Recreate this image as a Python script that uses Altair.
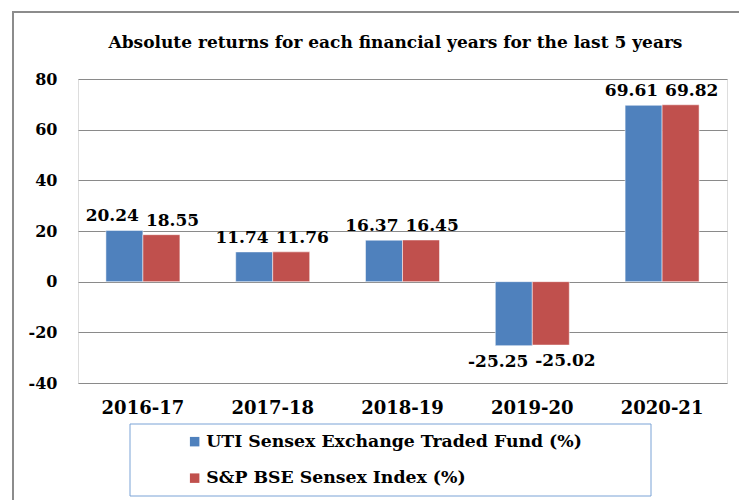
import altair as alt
import pandas as pd

years = ["2016-17", "2017-18", "2018-19", "2019-20", "2020-21"]
uti_values = [20.24, 11.74, 16.37, -25.25, 69.61]
bse_values = [18.55, 11.76, 16.45, -25.02, 69.82]
series_names = ["UTI Sensex Exchange Traded Fund (%)", "S&P BSE Sensex Index (%)"]
series_colors = ["#4F81BD", "#C0504D"]
y_ticks = [-40, -20, 0, 20, 40, 60, 80]
title_text = "Absolute returns for each financial years for the last 5 years"

rows = []
for i, yr in enumerate(years):
    rows.append({"year": yr, "series": series_names[0], "value": uti_values[i]})
    rows.append({"year": yr, "series": series_names[1], "value": bse_values[i]})
df = pd.DataFrame(rows)

FONT = "DejaVu Serif"
W, H = 649, 304
GRID = "#8a8a8a"

x_scale = alt.Scale(paddingInner=0.43, paddingOuter=0.215)
y_scale = alt.Scale(domain=[-40, 80], nice=False, zero=True)

x_enc = alt.X(
    "year:N", sort=years, scale=x_scale,
    axis=alt.Axis(title=None, labelAngle=0, labelFont=FONT, labelFontWeight="bold",
                  labelFontSize=18, labelColor="#000000", labelPadding=16,
                  ticks=False, tickSize=0, domain=False, grid=False),
)
y_enc = alt.Y(
    "value:Q", stack=False, scale=y_scale,
    axis=alt.Axis(title=None, values=y_ticks, labelFont=FONT, labelFontWeight="bold",
                  labelFontSize=16, labelColor="#000000", labelPadding=21,
                  ticks=False, tickSize=0, domain=False, grid=True,
                  gridColor=GRID, gridWidth=1,
                  labelExpr="replace(datum.label, '\u2212', '-')"),
)
color_enc = alt.Color(
    "series:N",
    scale=alt.Scale(domain=series_names, range=series_colors),
    legend=alt.Legend(title=None, orient="none", legendX=108, legendY=354,
                      symbolType="square", symbolSize=90, symbolStrokeWidth=0,
                      labelFont=FONT, labelFontWeight="bold", labelFontSize=17.3,
                      labelColor="#000000", labelOffset=3, rowPadding=18.5,
                      padding=0, labelLimit=600),
)

bars = alt.Chart(df).mark_bar(stroke="#ffffff", strokeWidth=0.5).encode(
    x=x_enc,
    xOffset=alt.XOffset("series:N", sort=series_names),
    y=y_enc,
    color=color_enc,
)


def label_layer(idx, positive):
    name = series_names[idx]
    cond = f"datum.series == '{name}' && datum.value {'>=' if positive else '<'} 0"
    return alt.Chart(df).transform_filter(cond).transform_calculate(
        label="replace(format(datum.value, '.2f'), '\u2212', '-')"
    ).mark_text(
        align="right" if idx == 0 else "left",
        baseline="bottom" if positive else "top",
        dx=-4 if idx == 0 else 3,
        dy=-5 if positive else 8,
        font=FONT, fontWeight="bold", fontSize=17, color="#000000",
    ).encode(
        x=alt.X("year:N", sort=years),
        y=alt.Y("value:Q", scale=y_scale),
        text=alt.Text("label:N"),
    )


labels = [label_layer(i, p) for i in (0, 1) for p in (True, False)]

one = alt.Data(values=[{"k": 1}])
legend_box = alt.Chart(one).mark_rect(fill="transparent", stroke="#7aa3d6", strokeWidth=1).encode(
    x=alt.value(52), x2=alt.value(573), y=alt.value(345), y2=alt.value(417)
)
outer_box = alt.Chart(one).mark_rect(fill="transparent", stroke="#8c8c8c", strokeWidth=2).encode(
    x=alt.value(-65), x2=alt.value(670), y=alt.value(-67), y2=alt.value(430)
)

chart = alt.layer(outer_box, bars, *labels, legend_box).properties(
    width=W, height=H,
    autosize=alt.AutoSizeParams(type="none"),
    padding={"left": 78, "top": 79, "right": 12, "bottom": 117},
    title=alt.TitleParams(title_text, font=FONT, fontWeight="bold", fontSize=17,
                          color="#000000", anchor="middle", offset=-41, dx=-7),
).configure_view(stroke=GRID, strokeWidth=1).configure(background="#ffffff")

chart.save("out.html", embed_options={"renderer": "svg", "actions": False})
